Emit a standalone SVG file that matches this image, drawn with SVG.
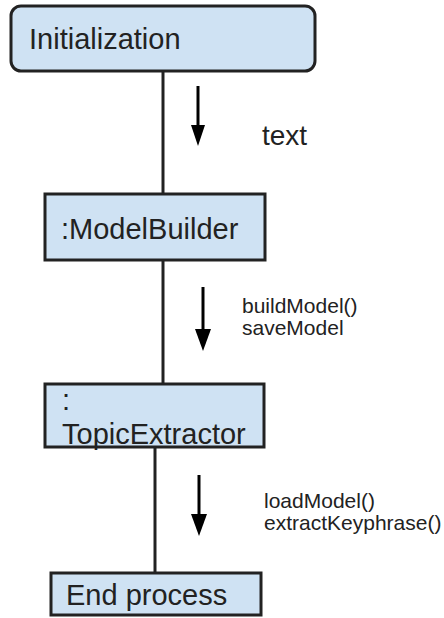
<svg xmlns="http://www.w3.org/2000/svg" width="444" height="618" viewBox="0 0 444 618">
<defs>
<style>
.box{fill:#cfe2f3;stroke:#222;stroke-width:3}
.big{font-family:"Liberation Sans",Arial,sans-serif;font-size:29px;fill:#222}
.small{font-family:"Liberation Sans",Arial,sans-serif;font-size:21px;fill:#222}
.life{stroke:#222;stroke-width:3;fill:none}
.arr{stroke:#000;stroke-width:3;fill:none}
.head{fill:#000}
</style>
</defs>
<rect width="444" height="618" fill="#fff"/>
<g id="connectors">
<line class="life" x1="163" y1="71" x2="163" y2="194"/>
<line class="life" x1="163" y1="260" x2="163" y2="384"/>
<line class="life" x1="155" y1="448" x2="155" y2="573"/>
<line class="arr" x1="198" y1="86" x2="198" y2="127"/>
<path class="head" d="M191,125 L205,125 L198,146 Z"/>
<line class="arr" x1="203" y1="287" x2="203" y2="331"/>
<path class="head" d="M195,329 L211,329 L203,351 Z"/>
<line class="arr" x1="199" y1="475" x2="199" y2="516"/>
<path class="head" d="M191,514 L207,514 L199,536 Z"/>
<text class="big" x="262" y="145" style="font-size:28px">text</text>
<text class="small" x="242" y="313">buildModel()</text>
<text class="small" x="242" y="335">saveModel</text>
<text class="small" x="264" y="508">loadModel()</text>
<text class="small" x="264" y="530">extractKeyphrase()</text>
</g>
<g id="init">
<rect class="box" x="11" y="6" width="304" height="65" rx="10"/>
<text class="big" x="29" y="49">Initialization</text>
</g>
<g id="modelbuilder">
<rect class="box" x="45" y="194" width="220" height="66"/>
<text class="big" x="61" y="239">:ModelBuilder</text>
</g>
<g id="topicextractor">
<rect class="box" x="45" y="384" width="219" height="63"/>
<text class="big" x="62" y="410">:</text>
<text class="big" x="62" y="444">TopicExtractor</text>
</g>
<g id="end">
<rect class="box" x="51" y="573" width="210" height="42"/>
<text class="big" x="66" y="605">End process</text>
</g>
</svg>
